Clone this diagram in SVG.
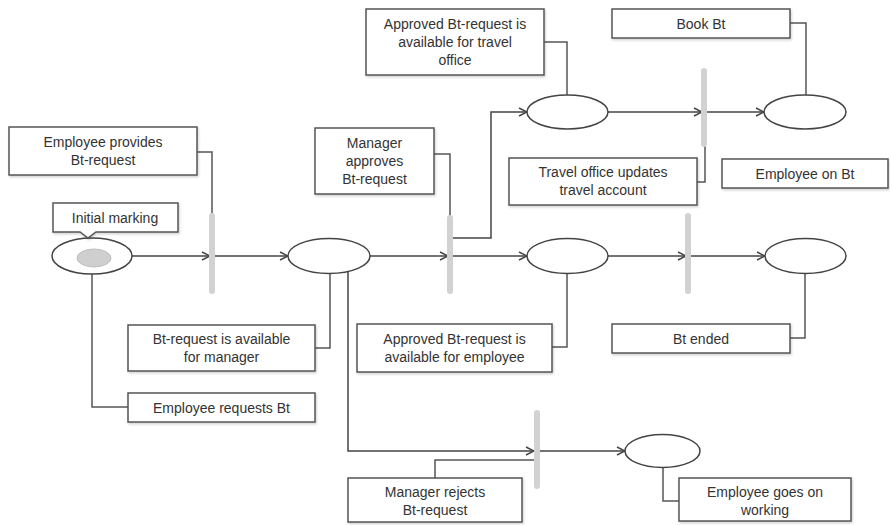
<svg xmlns="http://www.w3.org/2000/svg" width="890" height="525" viewBox="0 0 890 525">
<defs>
<marker id="arr" markerWidth="10" markerHeight="10" refX="9" refY="5" orient="auto" markerUnits="userSpaceOnUse">
<path d="M1,1 L9,5 L1,9" fill="none" stroke="#444" stroke-width="1.4"/>
</marker>
<filter id="sh" x="-10%" y="-10%" width="120%" height="130%">
<feDropShadow dx="1" dy="1.5" stdDeviation="1" flood-color="#000" flood-opacity="0.18"/>
</filter>
</defs>
<style>
.box{fill:#fff;stroke:#555;stroke-width:1.5;filter:url(#sh)}
.place{fill:#fff;stroke:#444;stroke-width:1.5}
.bar{stroke:#d2d2d2;stroke-width:6;stroke-linecap:round}
.arc{fill:none;stroke:#444;stroke-width:1.5}
.ann{fill:none;stroke:#555;stroke-width:1.5}
text{font-family:"Liberation Sans",Arial,sans-serif;font-size:14px;fill:#333;text-anchor:middle}
</style>
<rect width="890" height="525" fill="#fff"/>

<g id="connectors">
<line class="arc" x1="132" y1="256" x2="210" y2="256" marker-end="url(#arr)"/>
<line class="arc" x1="215" y1="256" x2="288" y2="256" marker-end="url(#arr)"/>
<line class="arc" x1="370" y1="256" x2="448" y2="256" marker-end="url(#arr)"/>
<line class="arc" x1="453" y1="256" x2="527" y2="256" marker-end="url(#arr)"/>
<polyline class="arc" points="453,238 491,238 491,112 527,112" marker-end="url(#arr)"/>
<line class="arc" x1="608" y1="112" x2="702" y2="112" marker-end="url(#arr)"/>
<line class="arc" x1="707" y1="112" x2="764" y2="112" marker-end="url(#arr)"/>
<line class="arc" x1="608" y1="256" x2="686" y2="256" marker-end="url(#arr)"/>
<line class="arc" x1="691" y1="256" x2="765" y2="256" marker-end="url(#arr)"/>
<polyline class="arc" points="348,272 348,451 534,451" marker-end="url(#arr)"/>
<line class="arc" x1="540" y1="451" x2="625" y2="451" marker-end="url(#arr)"/>
<!-- annotation connectors -->
<polyline class="ann" points="197,152 212,152 212,215"/>
<polyline class="ann" points="92,274 92,407 128,407"/>
<polyline class="ann" points="315,348 330,348 330,273"/>
<polyline class="ann" points="434,154 450,154 450,217"/>
<polyline class="ann" points="544,42 567,42 567,95"/>
<polyline class="ann" points="790,23 806,23 806,95"/>
<polyline class="ann" points="697,182 705,182 705,145"/>
<polyline class="ann" points="552,347 567,347 567,273"/>
<polyline class="ann" points="790,338 805,338 805,273"/>
<polyline class="ann" points="435,478 435,460 535,460"/>
<polyline class="ann" points="663,468 663,501 679,501"/>
</g>

<g id="t1"><line class="bar" x1="212" y1="216" x2="212" y2="291"/></g>
<g id="t2"><line class="bar" x1="450" y1="218" x2="450" y2="291"/></g>
<g id="t3"><line class="bar" x1="704" y1="71" x2="704" y2="144"/></g>
<g id="t4"><line class="bar" x1="688" y1="216" x2="688" y2="291"/></g>
<g id="t5"><line class="bar" x1="537" y1="413" x2="537" y2="486"/></g>

<g id="p0">
<ellipse class="place" cx="92" cy="256" rx="40" ry="18"/>
<ellipse cx="94" cy="258" rx="17" ry="9" fill="#cfcfcf" stroke="#bdbdbd" stroke-width="1"/>
</g>
<g id="p1"><ellipse class="place" cx="329" cy="256" rx="41" ry="17.5"/></g>
<g id="p2"><ellipse class="place" cx="567.5" cy="112" rx="40.5" ry="17"/></g>
<g id="p3"><ellipse class="place" cx="567.5" cy="256" rx="40.5" ry="17.5"/></g>
<g id="p4"><ellipse class="place" cx="805" cy="112" rx="41" ry="17"/></g>
<g id="p5"><ellipse class="place" cx="805.5" cy="256" rx="40.5" ry="17.5"/></g>
<g id="p6"><ellipse class="place" cx="662.5" cy="451" rx="37.5" ry="16.5"/></g>

<g id="initial-marking">
<path class="box" d="M53,203 H178 V232 H96 L88,238 L80,232 H53 Z"/>
<text x="115" y="223">Initial marking</text>
</g>
<g id="employee-provides">
<rect class="box" x="9" y="127" width="188" height="48"/>
<text x="103" y="147">Employee provides</text>
<text x="103" y="165">Bt-request</text>
</g>
<g id="employee-requests">
<rect class="box" x="128" y="393" width="187" height="29"/>
<text x="221.5" y="413">Employee requests Bt</text>
</g>
<g id="available-manager">
<rect class="box" x="128" y="325" width="187" height="46"/>
<text x="221.5" y="344">Bt-request is available</text>
<text x="221.5" y="362">for manager</text>
</g>
<g id="manager-approves">
<rect class="box" x="315" y="128" width="119" height="66"/>
<text x="374.5" y="148">Manager</text>
<text x="374.5" y="166">approves</text>
<text x="374.5" y="184">Bt-request</text>
</g>
<g id="available-travel-office">
<rect class="box" x="366" y="9" width="178" height="66"/>
<text x="455" y="29">Approved Bt-request is</text>
<text x="455" y="47">available for travel</text>
<text x="455" y="65">office</text>
</g>
<g id="available-employee">
<rect class="box" x="357" y="324" width="195" height="48"/>
<text x="454.5" y="344">Approved Bt-request is</text>
<text x="454.5" y="362">available for employee</text>
</g>
<g id="travel-office-updates">
<rect class="box" x="509" y="158" width="188" height="47"/>
<text x="603" y="177">Travel office updates</text>
<text x="603" y="195">travel account</text>
</g>
<g id="book-bt">
<rect class="box" x="612" y="9" width="178" height="29"/>
<text x="701" y="29">Book Bt</text>
</g>
<g id="employee-on-bt">
<rect class="box" x="722" y="159" width="166" height="29"/>
<text x="805" y="179">Employee on Bt</text>
</g>
<g id="bt-ended">
<rect class="box" x="612" y="324" width="178" height="29"/>
<text x="701" y="344">Bt ended</text>
</g>
<g id="manager-rejects">
<rect class="box" x="348" y="478" width="174" height="44"/>
<text x="435" y="497">Manager rejects</text>
<text x="435" y="515">Bt-request</text>
</g>
<g id="employee-goes-on">
<rect class="box" x="679" y="478" width="172" height="43"/>
<text x="765" y="497">Employee goes on</text>
<text x="765" y="515">working</text>
</g>
</svg>
